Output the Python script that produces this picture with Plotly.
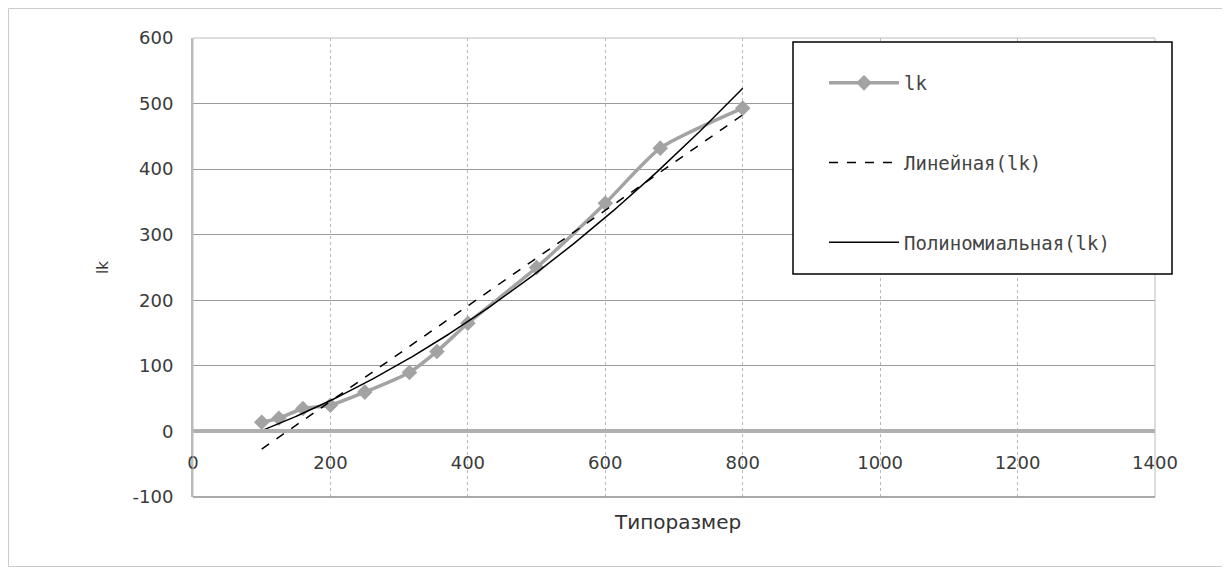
import numpy as np
import plotly.graph_objects as go

# Data
sizes = [100, 125, 160, 200, 250, 315, 355, 400, 500, 600, 680, 800]
lk = [14, 20, 35, 40, 60, 90, 122, 165, 250, 348, 432, 493]

x_ticks = [0, 200, 400, 600, 800, 1000, 1200, 1400]
y_ticks = [-100, 0, 100, 200, 300, 400, 500, 600]

series_name = "lk"
lin_name = "Линейная(lk)"
poly_name = "Полиномиальная(lk)"
x_title = "Типоразмер"
y_title = "lk"

# Trendlines as fitted by the spreadsheet (least squares)
xs = np.linspace(min(sizes), max(sizes), 200)
lin_c = np.polyfit(sizes, lk, 1)
poly_c = np.polyfit(sizes, lk, 2)

OFF = 8                                   # default page body margin
W, H = 1230 - OFF, 567 - OFF
L, R, T, B = 193, 1155, 38, 497           # plot area in screen pixels
PW, PH = R - L, B - T


def px(xp):
    return (xp - L) / PW


def py(yp):
    return (B - yp) / PH


tick_font = dict(family="DejaVu Sans, sans-serif", size=18, color="#3a3a3a")
legend_font = dict(family="DejaVu Sans Mono, monospace", size=19, color="#444444")

fig = go.Figure()
fig.add_trace(go.Scatter(
    x=sizes, y=lk, mode="lines+markers", name=series_name,
    line=dict(color="#a3a3a3", width=3.5, shape="spline", smoothing=0.6),
    marker=dict(symbol="diamond", size=12, color="#a3a3a3"),
    legendgroup="a"))
fig.add_trace(go.Scatter(
    x=xs, y=np.polyval(lin_c, xs), mode="lines", name=lin_name,
    line=dict(color="black", width=1.5, dash="dash"), legendgroup="b"))
fig.add_trace(go.Scatter(
    x=xs, y=np.polyval(poly_c, xs), mode="lines", name=poly_name,
    line=dict(color="black", width=1.5), legendgroup="c"))

ymin, ymax = y_ticks[0], y_ticks[-1]
zero_pos = (0 - ymin) / (ymax - ymin)

fig.update_layout(
    width=W, height=H,
    margin=dict(l=L - OFF, r=1230 - R, t=T - OFF, b=567 - B, autoexpand=False),
    paper_bgcolor="white", plot_bgcolor="white",
    font=dict(family="DejaVu Sans, sans-serif", size=15, color="#333333"),
    showlegend=True,
    legend=dict(
        x=px(824), y=py(64),
        xanchor="left", yanchor="top",
        borderwidth=0, bgcolor="rgba(0,0,0,0)",
        font=legend_font,
        tracegroupgap=52, itemwidth=70,
    ),
    xaxis=dict(
        range=[x_ticks[0], x_ticks[-1]], tickvals=x_ticks,
        ticktext=[str(v) for v in x_ticks],
        showgrid=True, gridcolor="#b8b8b8", griddash="dot", gridwidth=1,
        zeroline=False, showline=True, linecolor="#b0b0b0", linewidth=4,
        anchor="free", position=zero_pos, ticks="", ticklabelstandoff=14,
        tickfont=tick_font, automargin=False,
    ),
    yaxis=dict(
        range=[ymin, ymax], tickvals=y_ticks,
        ticktext=[str(v) for v in y_ticks],
        showgrid=True, gridcolor="#9a9a9a", gridwidth=1,
        zeroline=False, showline=True, linecolor="#bbbbbb", linewidth=2,
        ticks="", ticklabelstandoff=14,
        tickfont=tick_font, automargin=False,
        title=dict(text=y_title, standoff=20,
                   font=dict(family="DejaVu Sans, sans-serif", size=15, color="#333333")),
    ),
    shapes=[
        dict(type="rect", xref="paper", yref="paper", x0=0, x1=1, y0=0, y1=1,
             line=dict(color="#bbbbbb", width=1)),
        dict(type="line", xref="paper", yref="paper", x0=0, x1=1, y0=0, y1=0,
             line=dict(color="#999999", width=1.5)),
        # legend frame
        dict(type="rect", xref="paper", yref="paper", layer="above",
             x0=px(793), x1=px(1172), y0=py(274), y1=py(42),
             line=dict(color="black", width=1.5), fillcolor="white"),
        # outer picture frame
        dict(type="rect", xref="paper", yref="paper",
             x0=px(OFF + 0.5), x1=px(1229.5), y0=py(566.5), y1=py(OFF + 0.5),
             line=dict(color="#cccccc", width=1)),
    ],
    annotations=[
        dict(text=x_title, xref="paper", yref="paper", x=px(677),
             y=py(522), xanchor="center", yanchor="middle",
             showarrow=False,
             font=dict(family="DejaVu Sans, sans-serif", size=20, color="#333333")),
    ],
)

fig.write_html("out.html")
